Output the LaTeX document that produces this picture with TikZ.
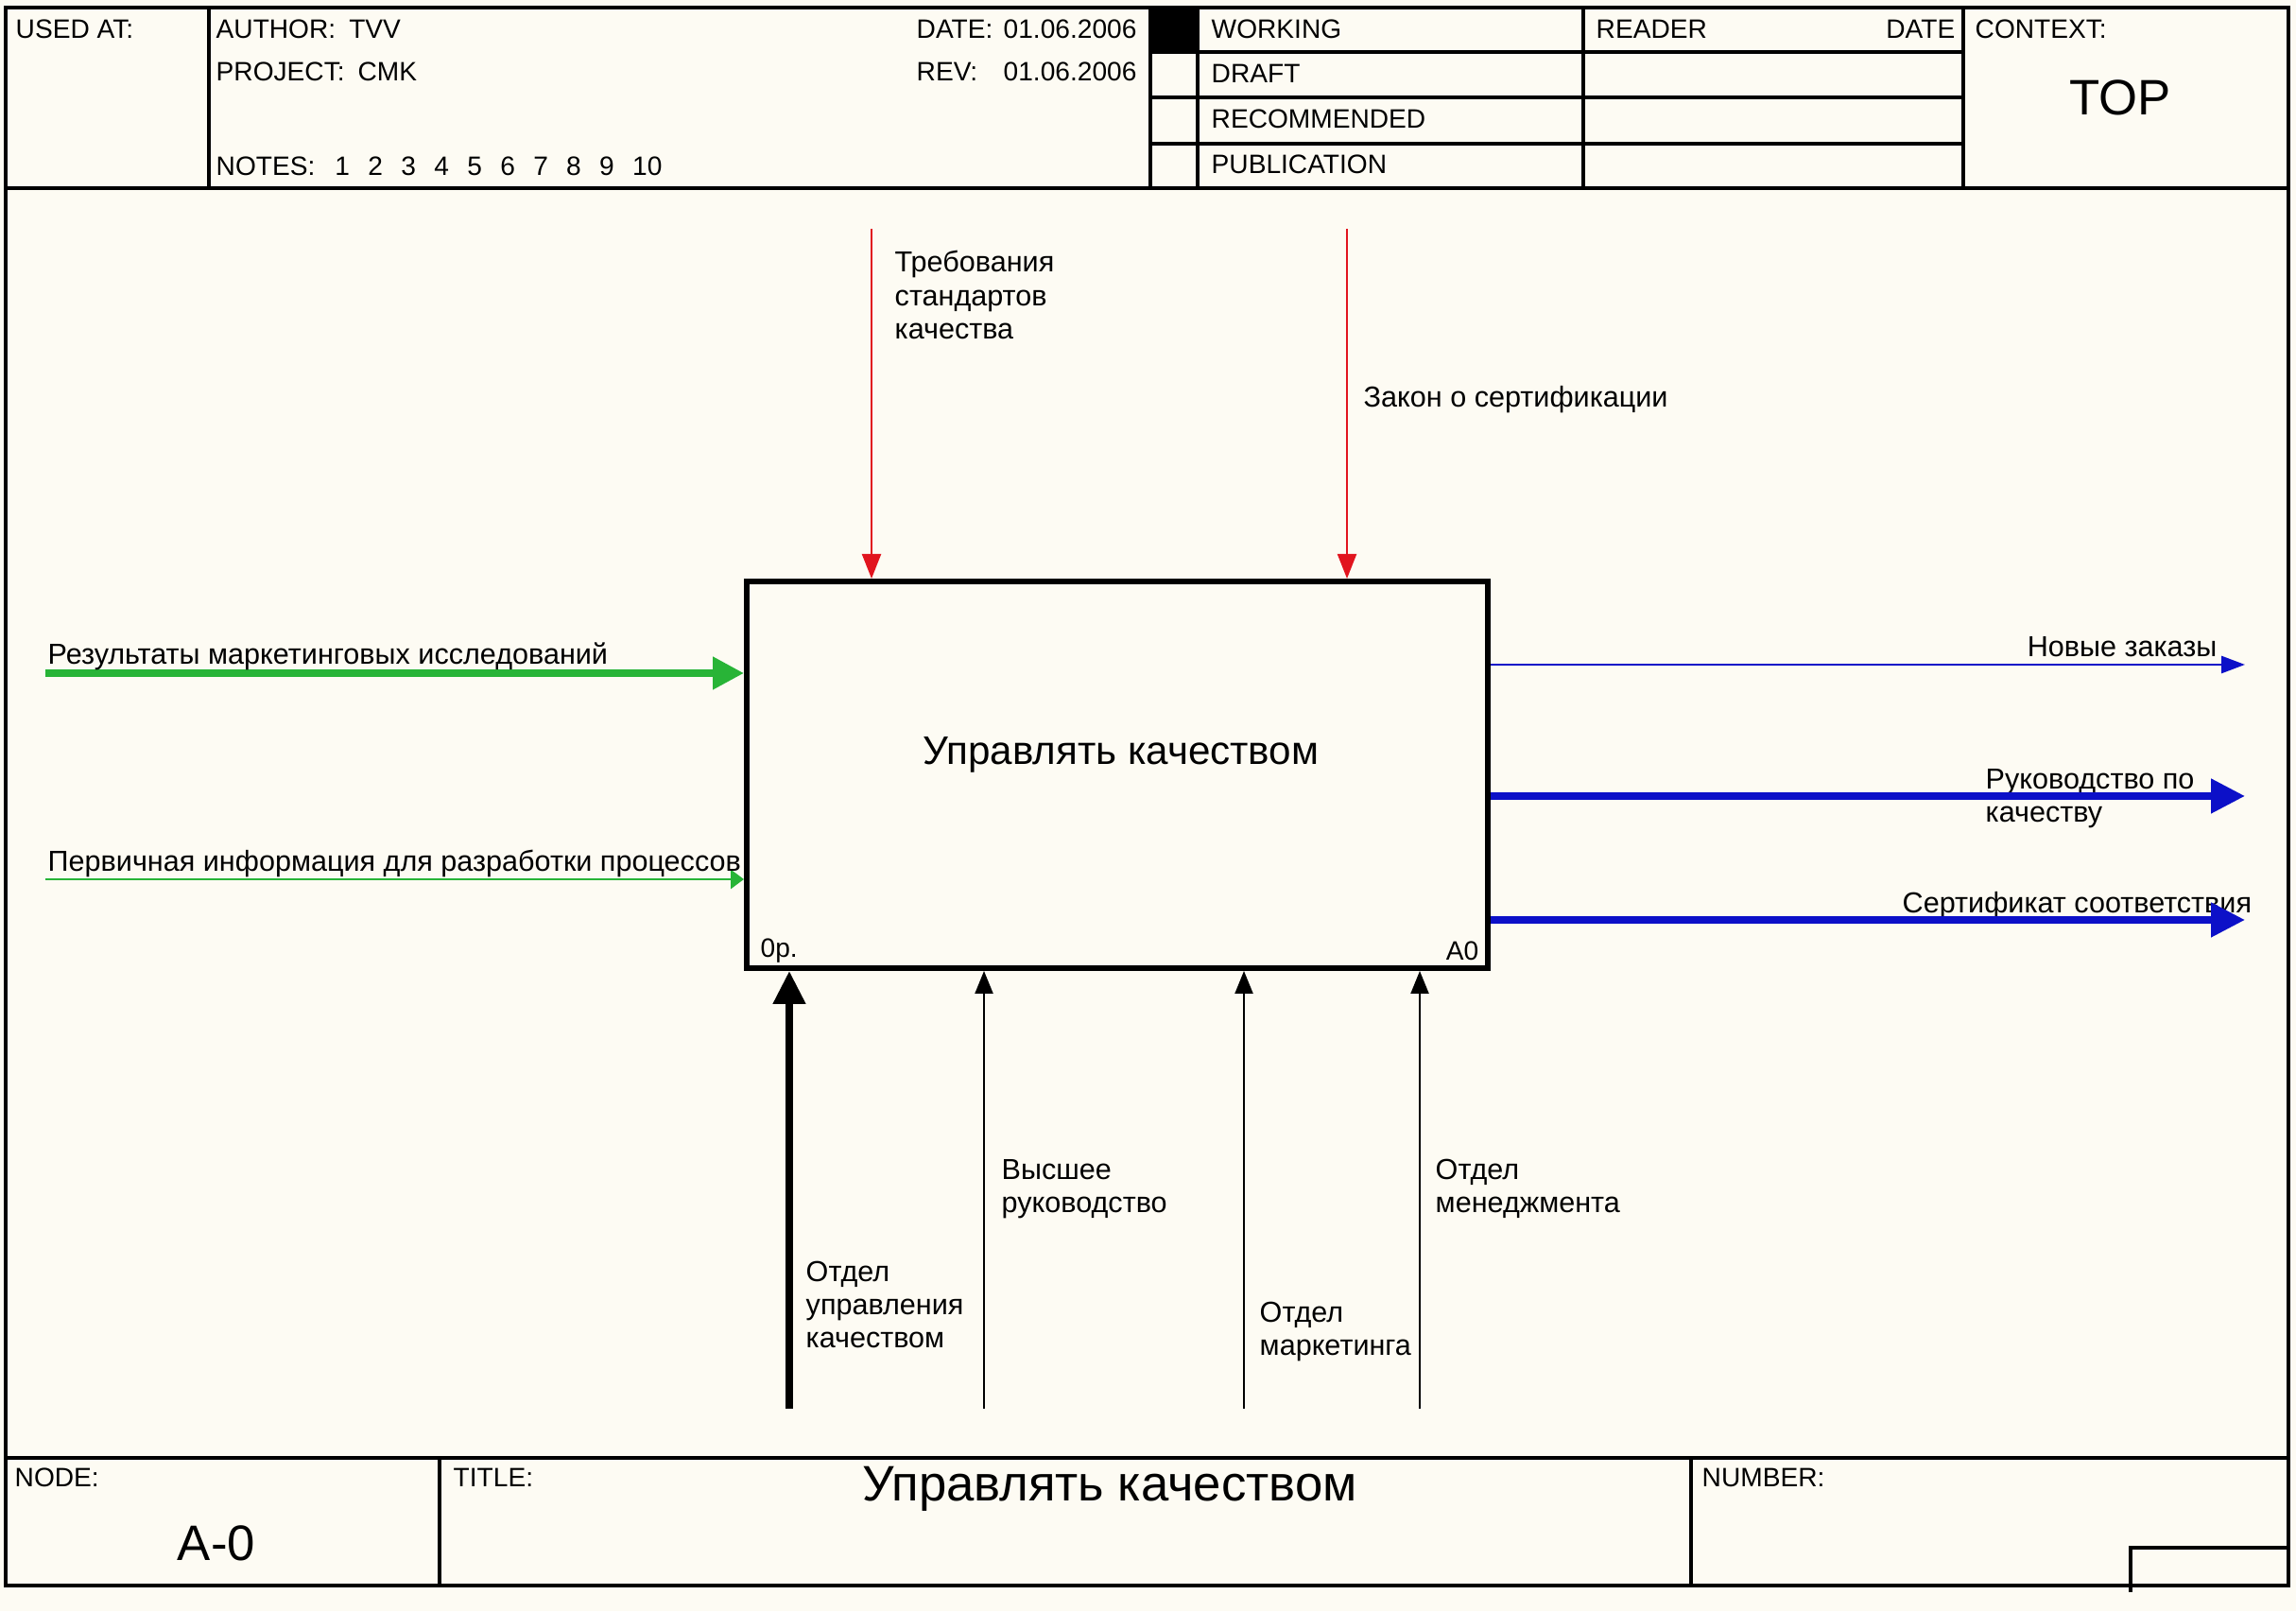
\documentclass[tikz,border=0pt]{standalone}
\usepackage{fontspec}
\setmainfont{Liberation Sans}
\usetikzlibrary{positioning,arrows.meta}
\definecolor{paper}{RGB}{253,251,243}
\definecolor{idefred}{RGB}{225,20,30}
\definecolor{idefgreen}{RGB}{40,180,55}
\definecolor{idefblue}{RGB}{12,16,200}
\tikzset{
  frame/.style     = {draw=black, line width=0.9pt},
  fnbox/.style     = {draw=black, fill=paper, line width=1.7pt, minimum width=7.84cm, minimum height=4.09cm, inner sep=0pt},
  hdr/.style       = {font=\fontsize{8}{9.6}\selectfont, anchor=west, inner sep=0pt},
  hdrbig/.style    = {font=\fontsize{15}{18}\selectfont, inner sep=0pt},
  boxname/.style   = {font=\fontsize{12}{14}\selectfont, inner sep=0pt},
  lbl/.style       = {font=\fontsize{8.7}{10}\selectfont, anchor=west, inner sep=0pt, align=left},
  inthick/.style   = {draw=idefgreen, line width=2.2pt, -{Triangle[length=3.3mm, width=3.3mm]}},
  inthin/.style    = {draw=idefgreen, line width=0.8pt, -{Triangle[length=1.4mm, width=2mm]}},
  ctrl/.style      = {draw=idefred, line width=0.6pt, -{Triangle[length=2.6mm, width=2mm]}},
  outthin/.style   = {draw=idefblue, line width=0.8pt, -{Triangle[length=2.5mm, width=1.8mm]}},
  outthick/.style  = {draw=idefblue, line width=2.2pt, -{Triangle[length=3.6mm, width=3.5mm]}},
  mechthin/.style  = {draw=black, line width=0.6pt, -{Triangle[length=2.4mm, width=1.9mm]}},
  mechthick/.style = {draw=black, line width=2.2pt, -{Triangle[length=3.5mm, width=3.3mm]}},
}

\begin{document}
\begin{tikzpicture}[x=1cm,y=1cm]
  \fill[paper] (0,0) rectangle (24.29,17.04);

  % header
  \draw[frame] (0.06,0.27) rectangle (24.21,16.96);
  \draw[frame] (0.06,15.05) -- (24.21,15.05);
  \draw[frame] (2.21,15.05) -- (2.21,16.96);
  \draw[frame] (12.17,15.05) -- (12.17,16.96);
  \draw[frame] (12.67,15.05) -- (12.67,16.96);
  \draw[frame] (16.75,15.05) -- (16.75,16.96);
  \draw[frame] (20.77,15.05) -- (20.77,16.96);
  \draw[frame] (12.17,16.49) -- (20.77,16.49);
  \draw[frame] (12.17,16.01) -- (20.77,16.01);
  \draw[frame] (12.17,15.52) -- (20.77,15.52);
  \node[hdr] (usedat) at (0.16,16.73) {USED AT:};
  \node[hdr] (author) at (2.28,16.73) {AUTHOR:\hspace{4pt}TVV};
  \node[hdr] (project) at (2.28,16.28) {PROJECT:\hspace{4pt}CMK};
  \node[hdr] (notes) at (2.28,15.28) {NOTES:\hspace{6pt}1\hspace{5.5pt}2\hspace{5.5pt}3\hspace{5.5pt}4\hspace{5.5pt}5\hspace{5.5pt}6\hspace{5.5pt}7\hspace{5.5pt}8\hspace{5.5pt}9\hspace{5.5pt}10};
  \node[hdr] (date) at (9.69,16.73) {DATE:};
  \node[hdr] (datev) at (10.61,16.73) {01.06.2006};
  \node[hdr] (rev) at (9.69,16.28) {REV:};
  \node[hdr] (revv) at (10.61,16.28) {01.06.2006};
  \fill[black] (12.17,16.49) rectangle (12.67,16.96);
  \node[hdr] (working) at (12.81,16.73) {WORKING};
  \node[hdr] (draft) at (12.81,16.26) {DRAFT};
  \node[hdr] (recommended) at (12.81,15.78) {RECOMMENDED};
  \node[hdr] (publication) at (12.81,15.30) {PUBLICATION};
  \node[hdr] (reader) at (16.88,16.73) {READER};
  \node[hdr, anchor=east] (rdate) at (20.69,16.73) {DATE};
  \node[hdr] (context) at (20.89,16.73) {CONTEXT:};
  \node[hdrbig] (top) at (22.43,16.01) {TOP};

  % function box
  \node[fnbox] (a0) at (11.82,8.845) {};
  \node[boxname] (a0name) at (11.86,9.06) {Управлять качеством};
  \node[hdr] (cost) at (8.04,6.98) {0р.};
  \node[hdr, anchor=east] (a0num) at (15.65,6.98) {A0};

  % controls
  \coordinate (c1) at (9.22,14.62);
  \coordinate (c2) at (14.25,14.62);
  \draw[ctrl] (c1) -- (c1 |- a0.north);
  \draw[ctrl] (c2) -- (c2 |- a0.north);
  \node[lbl] (c1lbl) at (9.46,13.92) {Требования\\стандартов\\качества};
  \node[lbl] (c2lbl) at (14.42,12.81) {Закон о сертификации};

  % inputs
  \coordinate (i1) at (0.48,9.92);
  \coordinate (i2) at (0.48,7.74);
  \draw[inthick] (i1) -- (i1 -| a0.west);
  \draw[inthin] (i2) -- (i2 -| a0.west);
  \node[lbl] (i1lbl) at (0.50,10.10) {Результаты маркетинговых исследований};
  \node[lbl] (i2lbl) at (0.50,7.91) {Первичная информация для разработки процессов};

  % outputs
  \node[lbl, anchor=east] (o1lbl) at (23.46,10.20) {Новые заказы};
  \node[lbl] (o2lbl) at (21.00,8.595) {Руководство по\\качеству};
  \node[lbl] (o3lbl) at (20.12,7.46) {Сертификат соответствия};
  \coordinate (o1) at (23.75,10.01);
  \coordinate (o2) at (23.75,8.62);
  \coordinate (o3) at (23.75,7.31);
  \draw[outthin] (o1 -| a0.east) -- (o1);
  \draw[outthick] (o2 -| a0.east) -- (o2);
  \draw[outthick] (o3 -| a0.east) -- (o3);

  % mechanisms
  \coordinate (m1) at (8.35,2.14);
  \coordinate (m2) at (10.41,2.14);
  \coordinate (m3) at (13.16,2.14);
  \coordinate (m4) at (15.02,2.14);
  \draw[mechthick] (m1) -- (m1 |- a0.south);
  \draw[mechthin] (m2) -- (m2 |- a0.south);
  \draw[mechthin] (m3) -- (m3 |- a0.south);
  \draw[mechthin] (m4) -- (m4 |- a0.south);
  \node[lbl] (m1lbl) at (8.52,3.24) {Отдел\\управления\\качеством};
  \node[lbl] (m2lbl) at (10.59,4.465) {Высшее\\руководство};
  \node[lbl] (m3lbl) at (13.32,2.955) {Отдел\\маркетинга};
  \node[lbl] (m4lbl) at (15.18,4.465) {Отдел\\менеджмента};

  % footer
  \draw[frame] (0.06,1.62) -- (24.21,1.62);
  \draw[frame] (4.65,0.27) -- (4.65,1.62);
  \draw[frame] (17.89,0.27) -- (17.89,1.62);
  \draw[frame] (22.54,0.20) |- (24.21,0.67);
  \node[hdr] (node) at (0.15,1.41) {NODE:};
  \node[hdrbig] (nodeno) at (2.29,0.72) {A-0};
  \node[hdr] (title) at (4.79,1.41) {TITLE:};
  \node[hdrbig] (titletext) at (11.74,1.29) {Управлять качеством};
  \node[hdr] (number) at (18.00,1.41) {NUMBER:};
\end{tikzpicture}
\end{document}
